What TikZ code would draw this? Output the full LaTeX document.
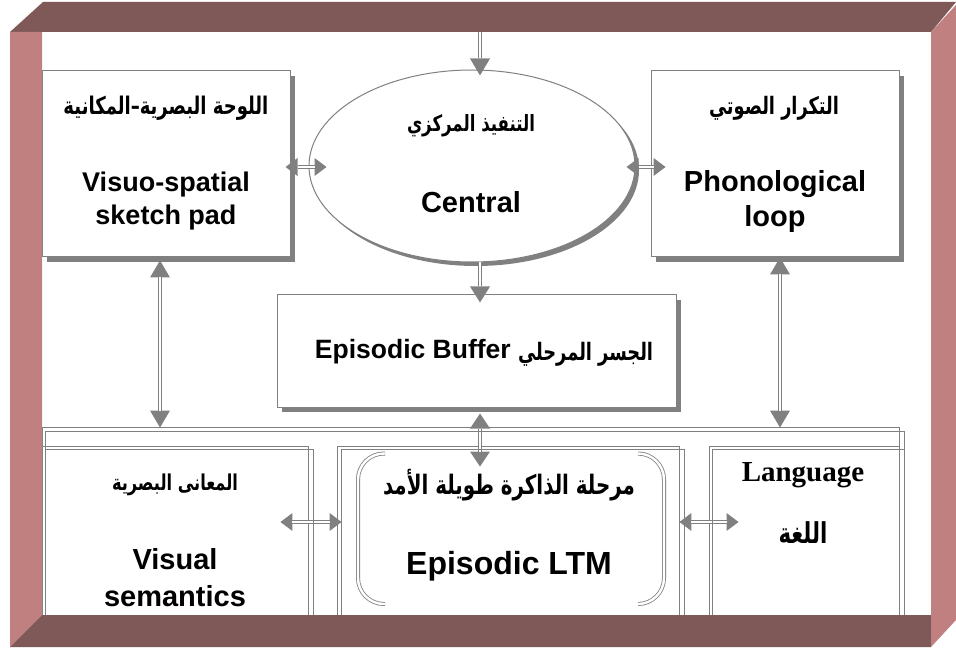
\documentclass[tikz,border=0pt]{standalone}
\usepackage{fontspec}
\setmainfont{Liberation Sans}
\newfontfamily\serifbf{Liberation Serif}
\newfontfamily\arabicfont[Script=Arabic]{DejaVu Sans}
\TeXXeTstate=1
\usetikzlibrary{arrows.meta,shapes.geometric,shadows}

\definecolor{barDark}{RGB}{127,88,88}
\definecolor{barLight}{RGB}{192,128,128}
\definecolor{lineGray}{RGB}{128,128,128}
\definecolor{shadowGray}{RGB}{128,128,128}

% Arabic label set to a given width, slightly taller than the plain glyphs
\newcommand\artext[2]{\scalebox{1}[1.35]{\resizebox{#1}{!}{\arabicfont\bfseries\fontsize{19}{20}\selectfont #2}}}

\tikzset{
  box/.style={draw=lineGray, line width=1pt, fill=white, inner sep=0pt,
    drop shadow={shadow xshift=5pt, shadow yshift=-5pt, fill=shadowGray, opacity=1}},
  ovalbox/.style={ellipse, draw=lineGray, line width=1pt, fill=white, inner sep=0pt,
    drop shadow={shadow xshift=4pt, shadow yshift=-4pt, fill=shadowGray, opacity=1}},
  lowbox/.style={draw=lineGray, line width=0.9pt, inner sep=0pt},
  lowline/.style={draw=lineGray, line width=0.9pt},
  bracket/.style={draw=lineGray, line width=0.8pt, double=white, double distance=2.4pt, rounded corners=26pt},
  twoway/.style 2 args={draw=lineGray, line width=4.6pt,
    {Triangle[length=#1,width=#2,line width=0pt]}-{Triangle[length=#1,width=#2,line width=0pt]},
    postaction={draw=white, line width=2.4pt, arrows=-, shorten <=#1, shorten >=#1}},
  oneway/.style 2 args={draw=lineGray, line width=4.6pt,
    -{Triangle[length=#1,width=#2,line width=0pt]},
    postaction={draw=white, line width=2.4pt, arrows=-, shorten >=#1}},
  entext/.style 2 args={font=\bfseries\fontsize{#1}{#2}\selectfont, align=center, inner sep=0pt, text=black},
  artxt/.style={inner sep=0pt, text=black},
}

\begin{document}
\begin{tikzpicture}[x=1pt,y=-1pt]
\useasboundingbox (0,0) rectangle (956,652);
\fill[white] (0,0) rectangle (956,652);

% columns and rows used by the connectors
\coordinate (colL) at (160,0);
\coordinate (colM) at (480,0);
\coordinate (colR) at (780,0);
\coordinate (rowA) at (0,167);
\coordinate (rowB) at (0,522);
\coordinate (topin) at (480,32);

% upper components
\node[box, minimum width=248pt, minimum height=186pt] (vs) at (166,164) {};
\node[box, minimum width=248pt, minimum height=186pt] (ph) at (775,164) {};
\node[ovalbox, minimum width=326pt, minimum height=192pt] (ce) at (472,166) {};
\node[box, minimum width=399pt, minimum height=112pt] (buf) at (476.5,351) {};

% connectors
\draw[oneway={17pt}{20pt}] (topin) -- ([yshift=-6pt]ce.north -| colM);
\draw[oneway={16pt}{20pt}] (ce.south -| colM) -- ([yshift=-8pt]buf.north -| colM);
\draw[twoway={12pt}{18pt}] ([xshift=-5pt]vs.east |- rowA) -- ([xshift=18pt]ce.west |- rowA);
\draw[twoway={12pt}{18pt}] ([xshift=-9pt]ce.east |- rowA) -- ([xshift=15pt]ph.west |- rowA);

% long-term layer frames
\node[lowbox, minimum width=857pt, minimum height=188pt] (lower) at (470.5,521) {};
\node[lowbox, minimum width=266pt, minimum height=169pt] (vsem) at (175,530.5) {};
\node[lowbox, minimum width=342pt, minimum height=169pt] (ltm) at (508,530.5) {};
\node[lowbox, minimum width=190pt, minimum height=169pt] (lang) at (804,530.5) {};

\draw[twoway={17pt}{20pt}] ([yshift=-3pt]vs.south -| colL) -- ([yshift=-1pt]lower.north -| colL);
\draw[twoway={17pt}{20pt}] (ph.south -| colR) -- ([yshift=-1pt]lower.north -| colR);
\draw[twoway={15pt}{20pt}] ([yshift=-6pt]buf.south -| colM) -- ([yshift=-21pt]ltm.north -| colM);
\draw[twoway={12pt}{18pt}] ([xshift=-28pt]vsem.east |- rowB) -- ([xshift=5pt]ltm.west |- rowB);
\draw[twoway={12pt}{18pt}] (ltm.east |- rowB) -- ([xshift=30pt]lang.west |- rowB);

% second outline of each frame
\draw[lowline] ([shift={(4pt,-5pt)}]lower.north west) rectangle ([shift={(5pt,-5pt)}]lower.south east);
\draw[lowline] ([shift={(4pt,-4pt)}]vsem.north west) rectangle ([shift={(5pt,-4pt)}]vsem.south east);
\draw[lowline] ([shift={(5pt,-4pt)}]ltm.north west) rectangle ([shift={(5pt,-4pt)}]ltm.south east);
\draw[lowline] ([shift={(4pt,-4pt)}]lang.north west) rectangle ([shift={(5pt,-4pt)}]lang.south east);

% rounded brackets around the episodic LTM label
\draw[bracket] (385,453.5) -| (358,604) -- (385,604);
\draw[bracket] (638,453.5) -| (664,604) -- (638,604);

% labels
\node[artxt] (vsar) at (166,108) {\artext{205pt}{\beginR اللوحة البصرية–المكانية\endR}};
\node[entext={27}{33}] (vsen) at (166,201) {Visuo-spatial\\sketch pad};
\node[artxt] (cear) at (471,126) {\artext{128pt}{\beginR التنفيذ المركزي\endR}};
\node[entext={29}{34}] (ceen) at (471,202) {Central};
\node[artxt] (phar) at (774,108) {\artext{130pt}{\beginR التكرار الصوتي\endR}};
\node[entext={29}{35}] (phen) at (775,202) {Phonological\\loop};
\node[entext={26.5}{30}] (bufen) at (484,353) {Episodic Buffer \raisebox{-2pt}{\artext{135pt}{\beginR الجسر المرحلي\endR}}};
\node[artxt] (vsemar) at (175,485) {\artext{126pt}{\beginR المعانى البصرية\endR}};
\node[entext={29}{37}] (vsemen) at (175,578) {Visual\\semantics};
\node[artxt] (ltmar) at (509,485) {\artext{252pt}{\beginR مرحلة الذاكرة طويلة الأمد\endR}};
\node[entext={32}{36}] (ltmen) at (509,566) {Episodic LTM};
\node[font=\serifbf\bfseries\fontsize{29}{30}\selectfont, inner sep=0pt] (langen) at (803,475) {Language};
\node[artxt] (langar) at (803,533) {\artext{49pt}{\beginR اللغة\endR}};

% bevelled outer frame
\fill[barDark] (10,32) -- (43,2) -- (956,2) -- (931,32) -- cycle;
\fill[barLight] (10,32) -- (42,32) -- (42,615) -- (10,647) -- cycle;
\fill[barDark] (10,647) -- (42,615) -- (931,615) -- (931,647) -- cycle;
\fill[barLight] (931,32) -- (956,5) -- (956,620) -- (931,647) -- cycle;
\end{tikzpicture}
\end{document}
